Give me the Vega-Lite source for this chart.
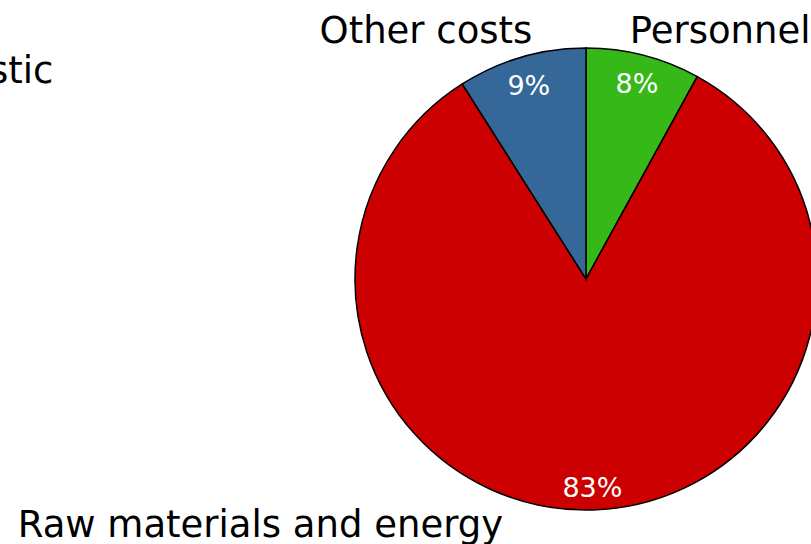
{
  "$schema": "https://vega.github.io/schema/vega-lite/v6.json",
  "width": 1172,
  "height": 558,
  "autosize": {"type": "none"},
  "padding": 0,
  "background": "white",
  "config": {"view": {"stroke": null}, "font": "DejaVu Sans"},
  "title": {
    "text": "stic",
    "anchor": "start",
    "frame": "group",
    "orient": "top",
    "offset": 0,
    "dx": -11,
    "dy": 121,
    "baseline": "alphabetic",
    "font": "DejaVu Sans",
    "fontSize": 37,
    "fontWeight": "normal",
    "color": "black"
  },
  "data": {
    "values": [
      {"category": "Personnel", "share": 8, "label": "8%", "rank": 1},
      {"category": "Raw materials and energy", "share": 83, "label": "83%", "rank": 2},
      {"category": "Other costs", "share": 9, "label": "9%", "rank": 3}
    ]
  },
  "encoding": {
    "theta": {"field": "share", "type": "quantitative", "stack": true},
    "order": {"field": "rank", "type": "quantitative"}
  },
  "layer": [
    {
      "mark": {"type": "arc", "radius": 231, "stroke": "black", "strokeWidth": 1.5},
      "encoding": {
        "color": {
          "field": "category",
          "type": "nominal",
          "scale": {
            "domain": ["Personnel", "Raw materials and energy", "Other costs"],
            "range": ["#37b819", "#cc0000", "#356899"]
          },
          "legend": null
        }
      }
    },
    {
      "mark": {"type": "text", "radius": 205, "fontSize": 27, "color": "white", "align": "center", "baseline": "middle", "dy": 5},
      "encoding": {"text": {"field": "label"}}
    },
    {
      "mark": {"type": "text", "radius": 244, "fontSize": 37, "color": "black", "align": "left", "baseline": "alphabetic", "dx": -17},
      "encoding": {
        "text": {"condition": {"test": "datum.category === 'Personnel'", "field": "category"}, "value": ""}
      }
    },
    {
      "mark": {"type": "text", "radius": 246, "fontSize": 37, "color": "black", "align": "right", "baseline": "alphabetic", "dx": 15},
      "encoding": {
        "text": {"condition": {"test": "datum.category === 'Other costs'", "field": "category"}, "value": ""}
      }
    },
    {
      "mark": {"type": "text", "radius": 258, "fontSize": 37, "color": "black", "align": "right", "baseline": "alphabetic", "dx": -91},
      "encoding": {
        "text": {"condition": {"test": "datum.category === 'Raw materials and energy'", "field": "category"}, "value": ""}
      }
    }
  ]
}
